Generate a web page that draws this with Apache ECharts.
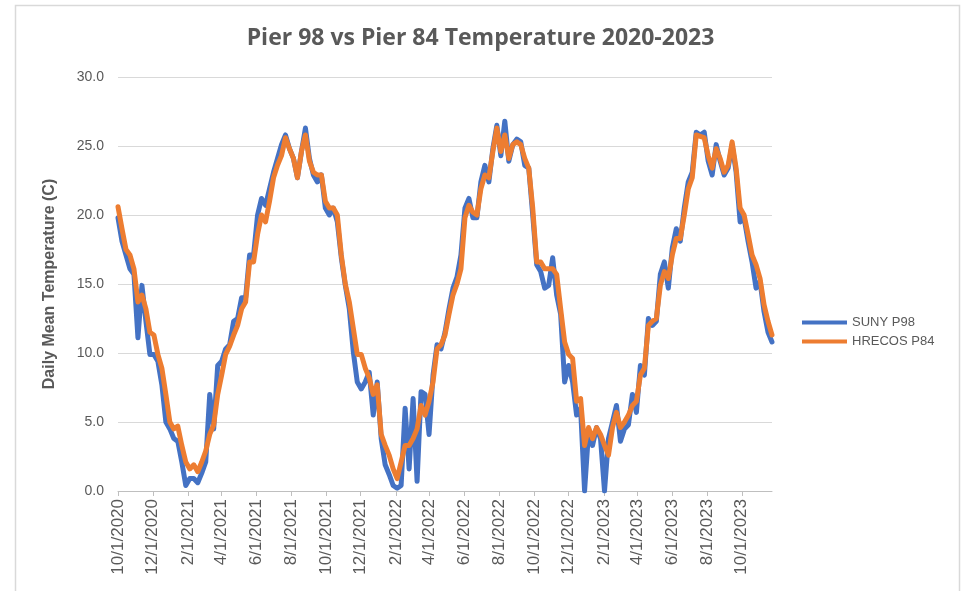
<!DOCTYPE html>
<html>
<head>
<meta charset="utf-8">
<script src="https://cdn.jsdelivr.net/npm/echarts@6/dist/echarts.min.js"></script>
<style>
  html, body { margin: 0; padding: 0; background: #ffffff; }
  #chart { width: 961px; height: 591px; }
</style>
</head>
<body>
<div id="chart"></div>
<script>
// ---- Data (weekly readings) ----
const startDate = '2020-10-01';   // first sample
const stepDays = 7;               // one sample per week

const tickLabels = ['10/1/2020','12/1/2020','2/1/2021','4/1/2021','6/1/2021','8/1/2021',
  '10/1/2021','12/1/2021','2/1/2022','4/1/2022','6/1/2022','8/1/2022','10/1/2022',
  '12/1/2022','2/1/2023','4/1/2023','6/1/2023','8/1/2023','10/1/2023'];

const sunyP98 = [
  19.8,18.1,17.1,16.1,15.7,11.1,14.9,12.3,9.9,9.9,
  9.4,7.7,5.0,4.5,3.8,3.6,2.1,0.4,0.9,0.9,
  0.6,1.3,2.1,7.0,4.5,9.1,9.4,10.3,10.6,12.3,
  12.5,14.0,14.0,17.1,17.1,20.0,21.2,20.7,21.9,23.1,
  24.1,25.1,25.8,24.8,24.1,22.7,24.6,26.3,24.1,22.9,
  22.4,22.9,20.5,20.0,20.5,19.5,16.9,14.9,13.2,10.1,
  7.9,7.4,7.9,8.6,5.5,7.9,3.8,1.9,1.2,0.4,
  0.2,0.4,6.0,1.6,6.7,0.7,7.2,7.0,4.1,8.4,
  10.6,10.3,11.5,13.2,14.7,15.5,17.1,20.5,21.2,19.8,
  19.8,22.4,23.6,22.4,24.8,26.5,24.3,26.8,23.9,25.1,
  25.5,25.3,23.6,23.4,20.0,16.4,15.9,14.7,14.9,16.9,
  14.2,12.8,7.9,9.1,7.9,5.5,6.0,0.0,4.3,3.3,
  4.6,3.8,0.0,3.8,5.0,6.2,3.6,4.5,4.8,7.0,
  5.7,9.1,8.4,12.5,12.0,12.3,15.7,16.6,14.7,17.6,
  19.0,18.1,20.5,22.4,23.1,26.0,25.8,26.0,23.9,22.9,
  25.1,23.9,22.9,23.4,25.1,23.1,19.5,19.8,18.1,16.6,
  14.7,15.2,13.0,11.5,10.8
];

const hrecosP84 = [
  20.6,19.0,17.5,17.1,16.1,13.7,14.2,13.2,11.5,11.3,
  9.9,8.9,7.0,5.0,4.5,4.7,3.3,2.1,1.6,1.9,
  1.4,2.1,2.9,4.1,4.8,7.0,8.4,9.9,10.5,11.3,
  12.0,13.2,13.7,16.6,16.6,18.6,20.0,19.5,21.0,22.7,
  23.6,24.3,25.6,24.8,24.1,22.7,24.6,25.8,23.9,23.1,
  22.9,22.9,21.0,20.5,20.5,20.0,17.1,15.0,13.7,11.8,
  9.9,9.9,8.9,8.2,7.0,7.7,4.1,3.3,2.6,1.6,
  0.9,2.1,3.3,3.3,3.8,4.5,6.2,5.5,6.5,7.9,
  10.3,10.6,11.3,12.8,14.2,15.0,16.1,19.8,20.7,20.2,
  20.0,21.9,22.9,22.7,24.6,26.3,24.6,25.8,24.1,25.1,
  25.3,25.1,24.1,23.4,20.5,16.6,16.6,16.1,16.1,16.1,
  15.7,13.2,10.8,9.9,9.6,6.5,6.7,3.3,4.6,3.8,
  4.6,4.1,3.3,2.6,4.6,5.7,4.6,5.0,5.5,6.2,
  6.5,8.4,8.9,12.0,12.3,12.5,14.9,15.9,15.4,17.1,
  18.3,18.3,20.0,21.9,22.7,25.8,25.7,25.6,24.3,23.4,
  24.8,24.1,23.1,23.6,25.3,23.4,20.5,20.0,18.6,17.1,
  16.4,15.4,13.5,12.3,11.3
];

// ---- Build dates ----
function parseMDY(s) { const p = s.split('/'); return new Date(+p[2], +p[0] - 1, +p[1]).getTime(); }
const sp = startDate.split('-');
const start = new Date(+sp[0], +sp[1] - 1, +sp[2]);
const dates = sunyP98.map((_, i) => new Date(start.getFullYear(), start.getMonth(), start.getDate() + i * stepDays).getTime());
const tickTimes = tickLabels.map(parseMDY);
const labelMap = {};
tickLabels.forEach((s, i) => { labelMap[tickTimes[i]] = s; });

const chart = echarts.init(document.getElementById('chart'), null, { renderer: 'canvas' });
const gray = '#595959';
chart.setOption({
  animation: false,
  backgroundColor: '#ffffff',
  graphic: [{
    type: 'rect', left: 13, top: 3, shape: { width: 944, height: 620 },
    style: { fill: 'none', stroke: '#D9D9D9', lineWidth: 1.5 }, silent: true, z: -1
  }],
  title: {
    text: 'Pier 98 vs Pier 84 Temperature 2020-2023',
    left: 'center', top: 22,
    textStyle: { fontFamily: 'Open Sans', fontWeight: 'bold', fontSize: 23, color: gray }
  },
  legend: {
    orient: 'vertical', left: 797, top: 311,
    icon: 'rect', itemWidth: 45, itemHeight: 4, itemGap: 6,
    textStyle: { fontFamily: 'Liberation Sans', fontSize: 13, color: gray },
    data: ['SUNY P98', 'HRECOS P84']
  },
  grid: { left: 118, right: 189, top: 77, bottom: 100, containLabel: false },
  xAxis: {
    type: 'value',
    min: dates[0], max: dates[dates.length - 1],
    axisLine: { show: true, lineStyle: { color: '#BFBFBF', width: 1 } },
    axisTick: { show: true, customValues: tickTimes, length: 5, lineStyle: { color: '#BFBFBF' } },
    axisLabel: {
      customValues: tickTimes, rotate: 90, margin: 8, hideOverlap: false,
      showMinLabel: true, showMaxLabel: true,
      fontFamily: 'Liberation Sans', fontSize: 17, color: gray,
      formatter: v => labelMap[v] || ''
    },
    splitLine: { show: false }
  },
  yAxis: {
    type: 'value', min: 0, max: 30, interval: 5,
    name: 'Daily Mean Temperature (C)', nameLocation: 'middle', nameGap: 60,
    nameTextStyle: { fontFamily: 'Liberation Sans', fontWeight: 'bold', fontSize: 16, color: gray },
    axisLine: { show: false }, axisTick: { show: false },
    axisLabel: { margin: 14, fontFamily: 'Liberation Sans', fontSize: 14, color: gray, formatter: v => v.toFixed(1) },
    splitLine: { lineStyle: { color: '#D9D9D9', width: 1 } }
  },
  series: [
    { name: 'SUNY P98', type: 'line', showSymbol: false, symbol: 'none',
      data: dates.map((d, i) => [d, sunyP98[i]]),
      lineStyle: { color: '#4472C4', width: 5, cap: 'round', join: 'round' }, itemStyle: { color: '#4472C4' } },
    { name: 'HRECOS P84', type: 'line', showSymbol: false, symbol: 'none',
      data: dates.map((d, i) => [d, hrecosP84[i]]),
      lineStyle: { color: '#ED7D31', width: 5, cap: 'round', join: 'round' }, itemStyle: { color: '#ED7D31' } }
  ]
});
</script>
</body>
</html>
